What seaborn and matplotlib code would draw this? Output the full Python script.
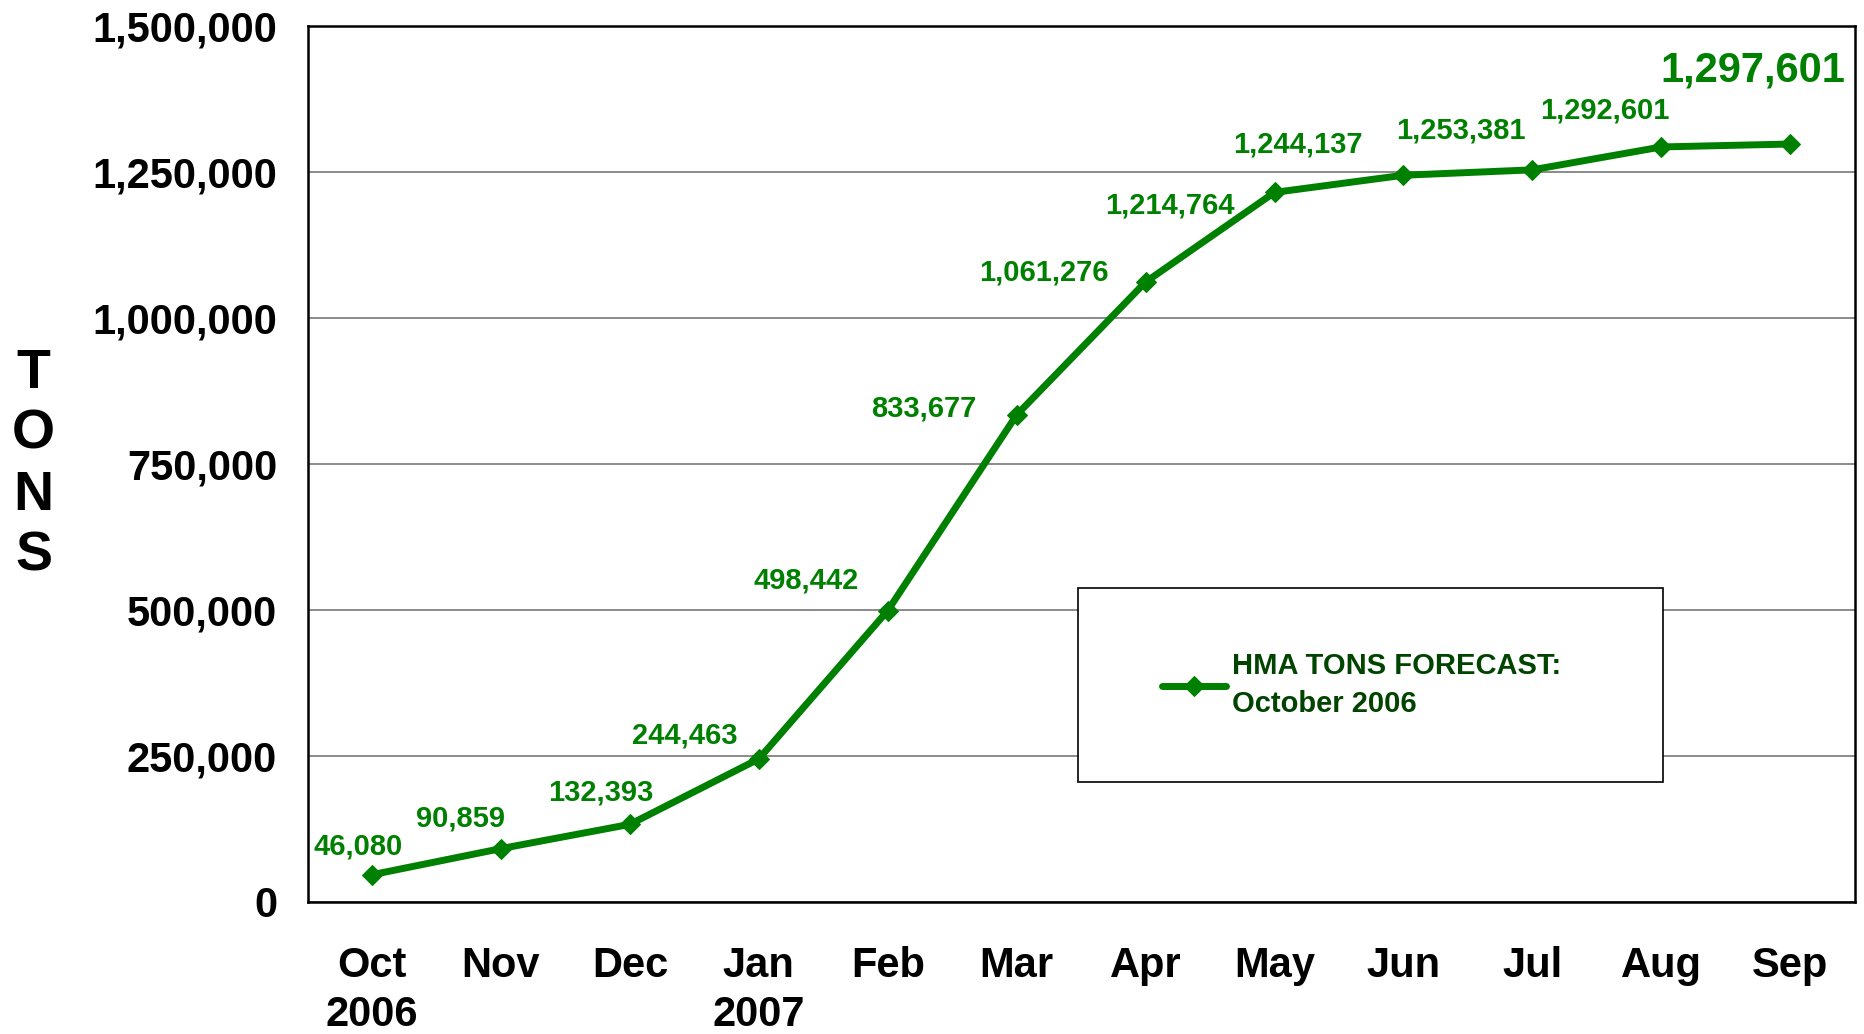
import matplotlib
matplotlib.use("Agg")
import matplotlib.pyplot as plt
import seaborn as sns
import pandas as pd
from matplotlib.patches import Rectangle
from matplotlib.ticker import FuncFormatter, FixedLocator

# data
months = ["Oct\n2006", "Nov", "Dec", "Jan\n2007", "Feb", "Mar",
          "Apr", "May", "Jun", "Jul", "Aug", "Sep"]
tons = [46080, 90859, 132393, 244463, 498442, 833677,
        1061276, 1214764, 1244137, 1253381, 1292601, 1297601]
yticks = [0, 250000, 500000, 750000, 1000000, 1250000, 1500000]

# where each value label sits relative to its point (pixels)
label_dx = [-14, -40, -29, -74, -82, -93, -102, -105, -106, -71, -56, -37]
label_dy = [28, 30, 32, 23, 30, 6, 10, -13, 31, 39, 36, 74]

green = "#008000"
dark_green = "#004400"

sns.set_style("white")
plt.rcParams['font.family'] = ['Liberation Sans Narrow', 'Liberation Sans', 'DejaVu Sans']
plt.rcParams['font.weight'] = 'bold'
plt.rcParams['text.color'] = 'black'
plt.rcParams['xtick.color'] = 'black'
plt.rcParams['ytick.color'] = 'black'

df = pd.DataFrame({"pos": range(len(months)), "tons": tons})

fig = plt.figure(figsize=(18.64, 10.34), dpi=100)
ax = fig.add_axes([0.165, 0.128, 0.83, 0.847])

sns.lineplot(data=df, x="pos", y="tons", ax=ax, color=green, linewidth=5,
             marker="D", markersize=10, markeredgecolor=green,
             label="HMA TONS FORECAST:\nOctober 2006", zorder=5)

ax.set_xlim(-0.5, len(months) - 0.5)
ax.set_ylim(0, 1500000)

# tick marks at category boundaries, labels at centres
ax.xaxis.set_major_locator(FixedLocator([i - 0.5 for i in range(len(months) + 1)]))
ax.xaxis.set_major_formatter(FuncFormatter(lambda v, p: ""))
ax.xaxis.set_minor_locator(FixedLocator(list(range(len(months)))))
ax.set_xticklabels(months, minor=True)
ax.tick_params(axis="x", which="major", direction="out", length=12, width=1.2, color="#555555")
ax.tick_params(axis="x", which="minor", length=0, pad=32, labelsize=30, labelcolor="black")
for t in ax.get_xticklabels(minor=True):
    t.set_fontweight("bold")
    t.set_linespacing(1.3)

ax.set_yticks(yticks)
ax.yaxis.set_major_formatter(FuncFormatter(lambda v, p: f"{int(v):,}"))
ax.tick_params(axis="y", direction="out", length=12, width=1.2, color="#555555",
               labelsize=30, pad=10, labelcolor="black")
for t in ax.get_yticklabels():
    t.set_fontweight("bold")

ax.grid(axis="y", color="#777777", linewidth=1.2)
ax.set_axisbelow(True)
for s in ax.spines.values():
    s.set_visible(True)
    s.set_color("black")
    s.set_linewidth(1.8)

ax.set_xlabel("")
ax.set_ylabel("")
fig.text(0.018, 0.55, "T\nO\nN\nS", fontsize=40, fontweight="bold", color="black",
         ha="center", va="center", linespacing=1.22)

# value labels
for i, v in enumerate(tons):
    big = i == len(tons) - 1
    ax.annotate(f"{v:,}", (i, v), xytext=(label_dx[i], label_dy[i]),
                textcoords="offset pixels", ha="center", va="center",
                color=green, fontweight="bold", fontsize=30 if big else 21,
                family=['Liberation Sans', 'DejaVu Sans'])

# legend box
ax.add_patch(Rectangle((0.498, 0.137), 0.378, 0.221, transform=ax.transAxes,
                       facecolor="white", edgecolor="black", linewidth=1.2, zorder=3))
leg = ax.legend(loc="upper left", bbox_to_anchor=(0.535, 0.315), frameon=False,
                handlelength=2.2, handletextpad=0.2,
                prop={"family": ['Liberation Sans', 'DejaVu Sans'], "weight": "bold", "size": 21})
for t in leg.get_texts():
    t.set_color(dark_green)
    t.set_linespacing(1.45)
leg.set_zorder(6)

fig.savefig("out.png", dpi=100)
